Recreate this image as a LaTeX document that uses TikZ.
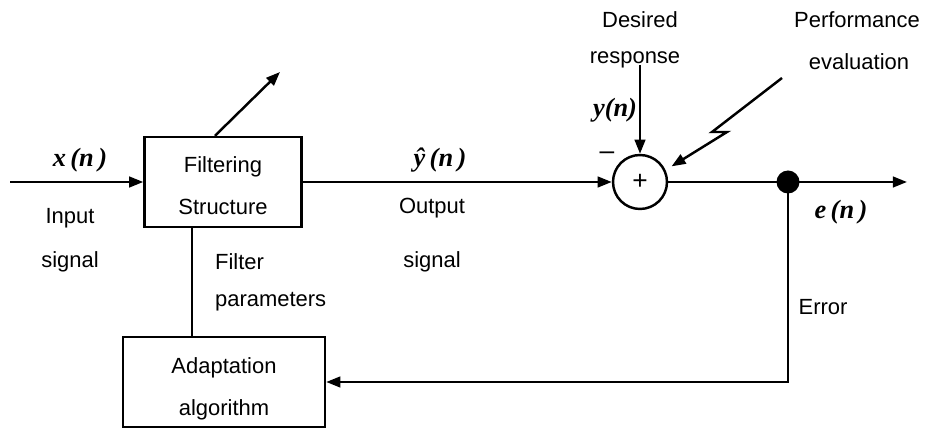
\documentclass[tikz,border=0pt]{standalone}
\usepackage{fontspec}
\setmainfont{Liberation Sans}
\newfontfamily\sigfont{Liberation Serif}
\usepackage{tikz}
\usetikzlibrary{positioning, arrows.meta, calc}

% signal names in bold italic serif
\newcommand{\sig}[1]{{\sigfont\bfseries\itshape\fontsize{15}{17}\selectfont #1}}

\begin{document}
\begin{tikzpicture}[
  x=0.02cm, y=-0.02cm,
  every node/.style={font=\fontsize{12.5}{14}\selectfont},
  block/.style={draw, line width=1.4pt, minimum width=3.14cm, minimum height=1.8cm,
                inner sep=2pt, align=center},
  sumnode/.style={draw, circle, line width=1.4pt, minimum size=1.08cm, inner sep=0pt},
  junction/.style={circle, fill=black, minimum size=0.46cm, inner sep=0pt},
  wire/.style={line width=1.4pt},
  flow/.style={wire, -{Triangle[length=8pt,width=6pt]}},
  lbl/.style={align=center, inner sep=1pt},
]
\useasboundingbox (0,0) rectangle (930,428);

% --- blocks ---
\node[block] (filt) at (223,182) {\rule{0pt}{13.5pt}Filtering\\[0.8em]Structure};
\node[block, minimum width=4.04cm] (adapt) at (224,382) {\rule{0pt}{17pt}Adaptation\\[0.8em]algorithm};
\node[sumnode] (sum) at (640,182) {\fontsize{15}{15}\selectfont +};
\node[junction] (junc) at (788,182) {};

% --- free ends ---
\coordinate (src) at (10,182);
\coordinate (out) at (907,182);
\coordinate (des) at (640,65);
\coordinate (perf) at (782,78);
\coordinate (tune) at (280,72);
\coordinate (link) at (192,0);
\coordinate (corner) at (788,382);

% --- signal path ---
\draw[flow] (src) -- (filt.west);
\draw[flow] (filt.east) -- (sum.west);
\draw[flow] (des) -- (sum.north);
\draw[flow] (sum.east) -- (junc.center) -- (out);
\draw[flow] ([xshift=-0.16cm]filt.north) -- (tune);

% performance evaluation (zig-zag)
\draw[flow, shorten >=4pt] (perf) -- ++(-70,54) -- ++(15,0) -- (sum.25);

% --- adaptation loop ---
\draw[wire] (filt.south -| link) -- (adapt.north -| link);
\draw[flow] (junc.center) -- (corner) -- (adapt.east);

% --- labels ---
\node[lbl] (xlbl) at (80,160) {\sig{x\,(n\,)}};
\node[lbl] (inlbl) at (70,218) {Input};
\node[lbl] (inlbl2) at (70,262) {signal};
\node[lbl] (yhat) at (440,160) {\sig{ŷ\,(n\,)}};
\node[lbl] (outlbl) at (432,208) {Output};
\node[lbl] (outlbl2) at (432,262) {signal};
\node[lbl, anchor=west] (parlbl) at (213,262) {Filter};
\node[lbl, anchor=west] (parlbl2) at (213,302) {parameters};
\node[lbl] (deslbl) at (640,20) {Desired};
\node[lbl] (deslbl2) at (635,60) {response};
\node[lbl] (ylbl) at (615,110) {\sig{y(n)}};
\node[lbl] (minus) at (607,156) {\fontsize{15}{15}\selectfont --};
\node[lbl] (perflbl) at (857,20) {Performance};
\node[lbl] (perflbl2) at (859,62) {evaluation};
\node[lbl] (elbl) at (841,212) {\sig{e\,(n\,)}};
\node[lbl] (errlbl) at (823,307) {Error};

\end{tikzpicture}
\end{document}
